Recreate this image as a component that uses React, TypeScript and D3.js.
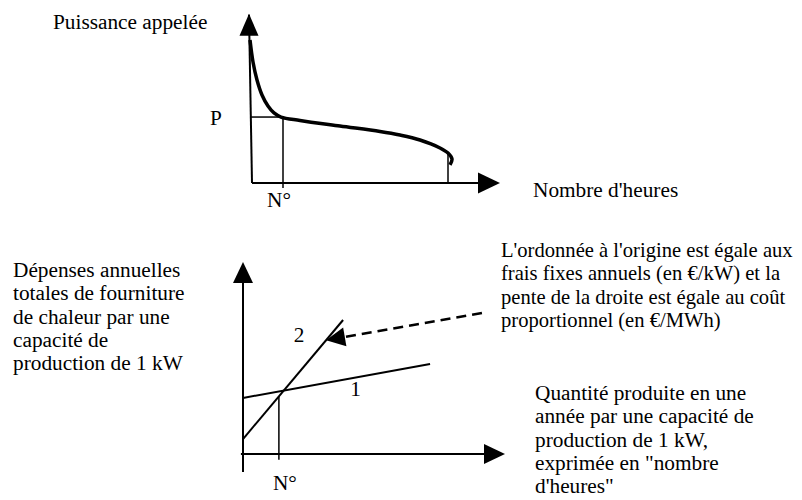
import * as d3 from 'd3';
import React from 'react';

// courbe monotone : durée (en % de l'année) et puissance appelée (unités arbitraires)
const dureeHeures = [0, 1.2, 2.8, 4.8, 7.2, 9.6, 12.4, 20, 36, 52, 60, 68, 76, 79.2, 80.8, 80];
const puissanceAppelee = [84.1, 71.2, 60.6, 51.8, 45.3, 41.2, 38.8, 36.8, 33.5, 30.3, 28.2, 25.3, 20.6, 17.6, 14.1, 10.6];
const puissanceP = 38.8;
const dureeN = 13.2;
const dureeFin = 79.2;

// droites de coût : frais fixes (ordonnée à l'origine) et coût proportionnel (pente)
const moyens = ['1', '2'];
const fraisFixes = [29.2, 7.8];
const coutProportionnel = [0.248, 1.623];
const heuresMax = [71.4, 38.2];
const etiquetteX = [43, 21.4];
const etiquetteY = [30.2, 58.3];
const seuilN = 13.7;

// flèche pointillée vers la droite 2
const flecheDepart = [91.2, 73.4];
const flecheHeure = 31.7;

const texteGauche = [
  'Dépenses annuelles',
  'totales de fourniture',
  'de chaleur par une',
  'capacité de',
  'production de 1 kW',
];
const texteDroite = [
  "L'ordonnée à l'origine est égale aux",
  'frais fixes annuels (en €/kW) et la',
  'pente de la droite est égale au coût',
  'proportionnel (en €/MWh)',
];
const texteBas = [
  'Quantité produite en une',
  'année par une capacité de',
  'production de 1 kW,',
  'exprimée en "nombre',
  'd\'heures"',
];

const font = "'Liberation Serif', 'Times New Roman', serif";

const tete = (tx: number, ty: number, fx: number, fy: number, len = 22, half = 9.5) => {
  const dx = fx - tx;
  const dy = fy - ty;
  const n = Math.hypot(dx, dy);
  const ux = dx / n;
  const uy = dy / n;
  const bx = tx + ux * len;
  const by = ty + uy * len;
  return `M${tx},${ty}L${bx - uy * half},${by + ux * half}L${bx + uy * half},${by - ux * half}Z`;
};

const App = () => {
  const width = 802;
  const height = 500;

  // graphique du haut
  const xH = d3.scaleLinear().domain([0, 100]).range([250, 500]);
  const yH = d3.scaleLinear().domain([0, 100]).range([183, 13]);

  const courbe = d3.line<number>()
    .x((d, i) => xH(dureeHeures[i]))
    .y((d) => yH(d))
    .curve(d3.curveCatmullRom.alpha(0.5));

  // graphique du bas
  const xB = d3.scaleLinear().domain([0, 100]).range([243, 505]);
  const yB = d3.scaleLinear().domain([0, 100]).range([454, 262]);

  const cout = (i: number, h: number) => fraisFixes[i] + coutProportionnel[i] * h;

  const tipX = xB(flecheHeure);
  const tipY = yB(cout(1, flecheHeure));
  const depX = xB(flecheDepart[0]);
  const depY = yB(flecheDepart[1]);
  const n = Math.hypot(depX - tipX, depY - tipY);
  const baseX = tipX + ((depX - tipX) / n) * 19;
  const baseY = tipY + ((depY - tipY) / n) * 19;

  return (
    <svg width={width} height={height} style={{ position: 'absolute', left: 0, top: 0, background: '#fff' }}>
      <g fontFamily={font} fontSize={21.3} fill="#000">
        {/* haut */}
        <line x1={xH(0.8)} y1={yH(0)} x2={xH(-0.4)} y2={yH(99)} stroke="#000" strokeWidth={2} />
        <path d={tete(xH(-0.4), yH(99.5), xH(-0.4), yH(0))} fill="#000" />
        <line x1={xH(0.8)} y1={yH(0)} x2={xH(99)} y2={yH(0)} stroke="#000" strokeWidth={2} />
        <path d={tete(xH(100), yH(0), xH(0), yH(0), 22, 10.5)} fill="#000" />
        <path d={courbe(puissanceAppelee) || ''} fill="none" stroke="#000" strokeWidth={3.5} />
        <line x1={xH(0.4)} y1={yH(puissanceP)} x2={xH(dureeN)} y2={yH(puissanceP)} stroke="#000" strokeWidth={1.5} />
        <line x1={xH(dureeN)} y1={yH(puissanceP)} x2={xH(dureeN)} y2={yH(-3)} stroke="#000" strokeWidth={1.5} />
        <line x1={xH(dureeFin)} y1={yH(17.6)} x2={xH(dureeFin)} y2={yH(0)} stroke="#000" strokeWidth={1.5} />
        <text x={53} y={29}>Puissance appelée</text>
        <text x={210} y={yH(puissanceP) + 8}>P</text>
        <text x={xH(dureeN) - 16} y={207}>N°</text>
        <text x={533} y={197}>Nombre d'heures</text>

        {/* bas */}
        <line x1={xB(0)} y1={yB(-9.4)} x2={xB(0)} y2={yB(99)} stroke="#000" strokeWidth={2} />
        <path d={tete(xB(0), yB(100), xB(0), yB(0), 21, 10)} fill="#000" />
        <line x1={xB(-0.8)} y1={yB(0)} x2={xB(99)} y2={yB(0)} stroke="#000" strokeWidth={2} />
        <path d={tete(xB(100), yB(0), xB(0), yB(0), 21, 10)} fill="#000" />
        {moyens.map((m, i) => (
          <g key={m}>
            <line x1={xB(0)} y1={yB(cout(i, 0))} x2={xB(heuresMax[i])} y2={yB(cout(i, heuresMax[i]))} stroke="#000" strokeWidth={2} />
            <text x={xB(etiquetteX[i])} y={yB(etiquetteY[i])} textAnchor="middle">{m}</text>
          </g>
        ))}
        <line x1={xB(seuilN)} y1={yB(cout(1, seuilN))} x2={xB(seuilN)} y2={yB(-3)} stroke="#000" strokeWidth={1.5} />
        <line x1={depX} y1={depY} x2={baseX} y2={baseY} stroke="#000" strokeWidth={2.5} strokeDasharray="10,6" />
        <path d={tete(tipX, tipY, depX, depY, 19, 9.5)} fill="#000" />
        <text x={xB(seuilN) - 6} y={490}>N°</text>

        {texteGauche.map((t, i) => (
          <text key={t} x={13} y={277 + i * 23.3}>{t}</text>
        ))}
        {texteDroite.map((t, i) => (
          <text key={t} x={501} y={257 + i * 23.3} fontSize={20.6}>{t}</text>
        ))}
        {texteBas.map((t, i) => (
          <text key={t} x={535} y={400 + i * 23.3}>{t}</text>
        ))}
      </g>
    </svg>
  );
};

export default App;
